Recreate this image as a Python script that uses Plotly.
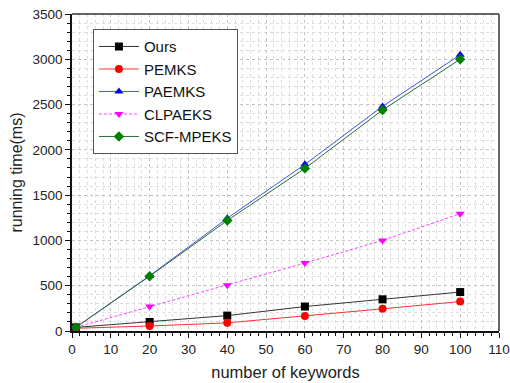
import plotly.graph_objects as go

# number of keywords
keywords = [1, 20, 40, 60, 80, 100]

# running time (ms) per scheme
ours = [40, 100, 170, 270, 350, 430]
pemks = [30, 55, 90, 165, 245, 325]
paemks = [40, 610, 1245, 1840, 2480, 3050]
clpaeks = [40, 270, 505, 750, 1000, 1295]
scf_mpeks = [40, 605, 1220, 1795, 2440, 3000]

series = [
    ("Ours", ours, "#000000", "#333333", "square", "solid"),
    ("PEMKS", pemks, "#ff0000", "#ff3030", "circle", "solid"),
    ("PAEMKS", paemks, "#0000ff", "#4455dd", "triangle-up", "solid"),
    ("CLPAEKS", clpaeks, "#ff00ff", "#ff40ff", "triangle-down", "3px,2px"),
    ("SCF-MPEKS", scf_mpeks, "#008000", "#2a6a3a", "diamond", "solid"),
]

FONT = "Liberation Sans, Arial, sans-serif"

fig = go.Figure()
for name, vals, mcol, lcol, sym, dash in series:
    fig.add_trace(go.Scatter(
        x=keywords, y=vals, name=name, mode="lines+markers",
        line=dict(color=lcol, width=1, dash=dash),
        marker=dict(color=mcol, symbol=sym, size=8),
    ))

axis_common = dict(
    automargin=False,
    showline=True, linecolor="#111111", linewidth=1.5, mirror=False,
    ticks="outside", ticklen=5, tickwidth=1, tickcolor="#111111",
    showgrid=True, gridcolor="#c4c4c4", griddash="dot", gridwidth=1,
    zeroline=False,
    tickfont=dict(family=FONT, size=13.5, color="#222222"),
    minor=dict(ticks="outside", ticklen=3, tickcolor="#111111", showgrid=True,
               gridcolor="#dcdcdc", griddash="dot"),
)

fig.update_xaxes(range=[0, 110], dtick=10, title_text="number of keywords",
                 title_font=dict(family=FONT, size=16.5, color="#222222"),
                 title_standoff=10, **axis_common)
fig.update_yaxes(range=[0, 3500], dtick=500, title_text="running time(ms)",
                 title_font=dict(family=FONT, size=16, color="#222222"),
                 title_standoff=6, **axis_common)

# right and top frame edges
fig.add_shape(type="line", xref="paper", yref="paper", x0=0, x1=1, y0=1, y1=1,
              line=dict(color="#666666", width=2))
fig.add_shape(type="line", xref="paper", yref="paper", x0=1, x1=1, y0=0, y1=1,
              line=dict(color="#666666", width=2))

fig.update_layout(
    width=510, height=383,
    margin=dict(l=72, r=11, t=14, b=52),
    plot_bgcolor="white", paper_bgcolor="white",
    font=dict(family=FONT),
    legend=dict(
        x=0.049, y=0.952, xanchor="left", yanchor="top",
        bgcolor="white", bordercolor="#555555", borderwidth=1,
        font=dict(size=15, color="#111111"),
        tracegroupgap=0, itemwidth=40,
    ),
    showlegend=True,
)

fig.write_html("out.html")
